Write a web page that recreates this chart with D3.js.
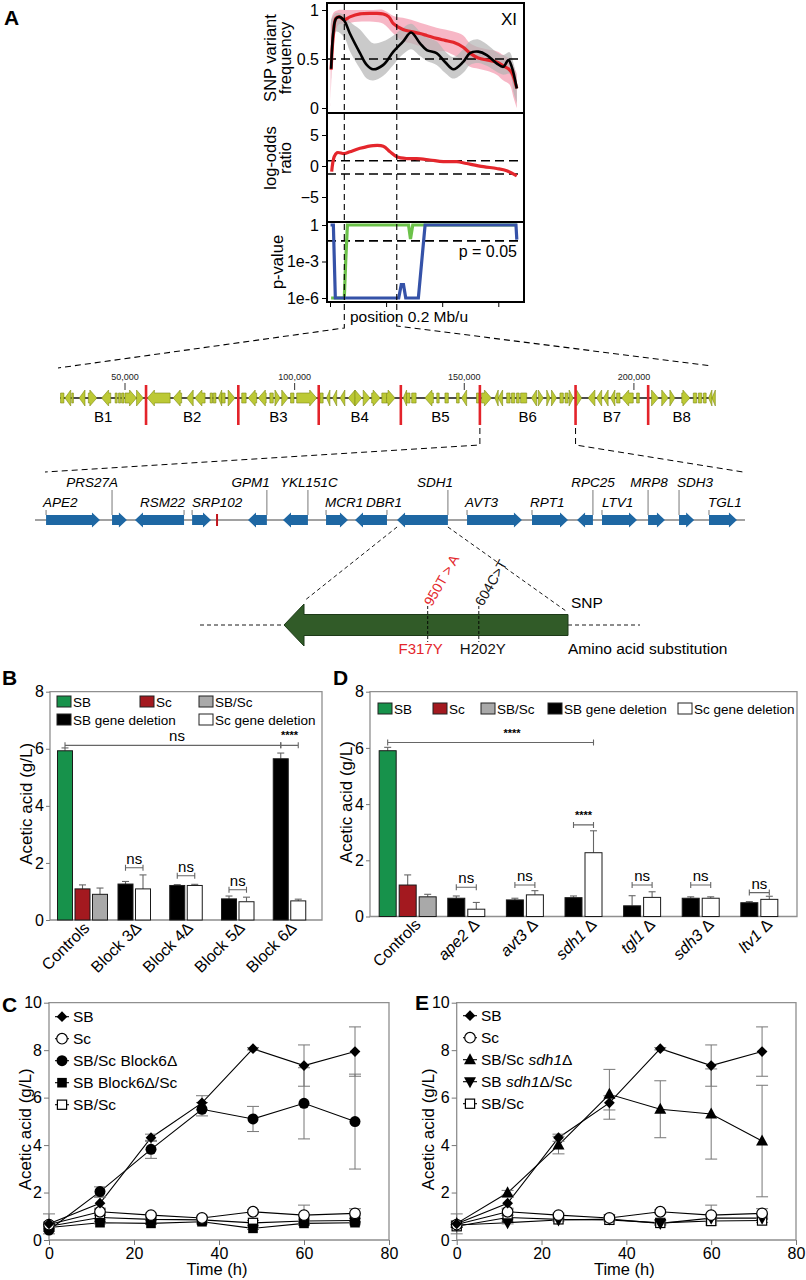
<!DOCTYPE html>
<html><head><meta charset="utf-8">
<script src="https://cdn.jsdelivr.net/npm/d3@7"></script>
<style>body{margin:0;background:#fff}svg{display:block}</style>
</head><body>
<svg id="c" width="806" height="1280"></svg>
<script>
// ================= DATA =================
// Panel A (chromosome XI, position in Mb)
const freqRed=[[0.004,0.39],[0.012,0.75],[0.021,0.915],[0.033,0.93],[0.051,0.9],[0.071,0.93],[0.107,0.96],[0.154,0.965],[0.19,0.96],[0.21,0.93],[0.226,0.86],[0.26,0.8],[0.289,0.78],[0.321,0.76],[0.345,0.74],[0.38,0.71],[0.41,0.69],[0.44,0.67],[0.475,0.62],[0.499,0.56],[0.529,0.51],[0.559,0.49],[0.594,0.47],[0.618,0.43],[0.636,0.4],[0.648,0.36],[0.666,0.2]];
const freqBlack=[[0.004,0.4],[0.012,0.78],[0.021,0.91],[0.033,0.93],[0.051,0.89],[0.071,0.76],[0.107,0.56],[0.131,0.44],[0.154,0.395],[0.19,0.44],[0.226,0.575],[0.261,0.68],[0.289,0.77],[0.321,0.66],[0.345,0.59],[0.38,0.56],[0.41,0.47],[0.44,0.395],[0.475,0.47],[0.499,0.56],[0.529,0.575],[0.559,0.54],[0.594,0.456],[0.618,0.42],[0.636,0.49],[0.648,0.42],[0.666,0.2]];
const pinkCloud=[[0.002,0.02,0.85],[0.012,0.6,0.97],[0.03,0.85,1.0],[0.051,0.86,1.0],[0.1,0.88,1.0],[0.154,0.88,1.0],[0.19,0.86,1.0],[0.226,0.76,0.94],[0.26,0.68,0.92],[0.289,0.66,0.9],[0.321,0.63,0.87],[0.345,0.6,0.85],[0.38,0.58,0.82],[0.41,0.58,0.8],[0.44,0.54,0.78],[0.475,0.48,0.74],[0.499,0.42,0.66],[0.529,0.4,0.62],[0.559,0.38,0.6],[0.594,0.34,0.58],[0.618,0.28,0.54],[0.64,0.24,0.5],[0.655,0.1,0.42],[0.666,0.0,0.35]];
const grayCloud=[[0.004,0.3,0.9],[0.021,0.78,0.97],[0.051,0.72,0.95],[0.071,0.58,0.88],[0.107,0.4,0.8],[0.131,0.3,0.72],[0.154,0.28,0.66],[0.19,0.33,0.68],[0.226,0.44,0.74],[0.261,0.55,0.82],[0.289,0.6,0.86],[0.321,0.53,0.78],[0.345,0.48,0.72],[0.38,0.44,0.68],[0.41,0.36,0.58],[0.44,0.3,0.52],[0.475,0.36,0.6],[0.499,0.44,0.68],[0.529,0.46,0.7],[0.559,0.43,0.65],[0.594,0.37,0.57],[0.618,0.34,0.54],[0.64,0.35,0.57],[0.655,0.15,0.45],[0.666,0.05,0.3]];
const logOdds=[[0.006,-0.9],[0.015,1.5],[0.025,2.15],[0.051,2.0],[0.071,2.3],[0.107,2.85],[0.154,3.3],[0.19,3.2],[0.214,2.3],[0.238,1.5],[0.273,1.2],[0.309,1.2],[0.356,0.97],[0.404,0.7],[0.452,0.7],[0.487,0.4],[0.547,-0.1],[0.594,-0.4],[0.63,-0.75],[0.666,-1.6]];
const pGreen=[[0.004,-6],[0.051,-6],[0.056,-3],[0.062,0],[0.28,0],[0.287,-1.15],[0.295,0],[0.666,0]];
const pBlue=[[0.002,0],[0.012,0],[0.019,-6],[0.245,-6],[0.254,-4.9],[0.262,-4.9],[0.27,-6],[0.315,-6],[0.339,0],[0.663,0],[0.666,-1.2]];
const freqTicks=[0,0.5,1], lodTicks=[-5,0,5], pTicks=[0,-3,-6], pTickLabels=["1","1e-3","1e-6"];
const posTicks=[0,0.2,0.4,0.6];
const lodThresholds=[0.85,-1.3];
const pThreshold=Math.log10(0.05);
const qtlMarks=[0.051,0.238];

// Gene track (kb)
const blockBounds=[56.2,83.4,107.1,131.3,154.6,182.8,204.2];
const blockNames=["B1","B2","B3","B4","B5","B6","B7","B8"];
const trackTicks=[50000,100000,150000,200000];
const trackGenes=[[31.0,32.0,0],[32.3,34.0,-1],[34.3,34.8,0],[36.5,38.2,-1],[39.2,41.7,1],[43.1,45.8,-1],[47.1,47.7,0],[48.1,48.7,0],[49.0,49.7,0],[50.0,53.4,1],[53.4,55.4,1],
[56.6,63.3,-1],[64.2,66.7,-1],[68.2,70.1,-1],[70.6,73.6,-1],[75.1,75.8,0],[76.0,76.8,0],[77.5,78.5,-1],[78.5,79.5,0],[80.4,82.4,1],
[84.4,85.7,0],[86.3,88.8,-1],[89.3,91.6,-1],[92.7,93.7,0],[94.2,95.7,1],[96.2,98.1,1],[98.8,99.8,0],[100.6,106.5,1],
[107.5,108.4,0],[109.4,110.4,-1],[111.2,112.4,-1],[113.4,114.8,-1],[115.8,117.8,-1],[117.8,119.8,1],[120.2,122.2,1],[122.7,125.2,1],[125.7,127.1,0],[127.1,129.6,1],
[132.0,133.0,-1],[133.0,134.0,0],[134.5,135.8,0],[138.4,140.9,-1],[141.9,142.6,0],[144.3,145.3,0],[147.7,148.5,0],[149.2,150.7,-1],[153.6,154.4,0],
[155.1,158.0,1],[159.0,160.0,-1],[160.0,161.3,-1],[162.5,163.5,0],[163.9,164.9,0],[165.4,166.2,0],[166.6,168.4,0],[169.8,171.3,-1],[171.8,173.3,1],[174.3,175.3,1],[175.7,177.2,1],[178.2,179.2,0],[179.7,180.6,0],[180.9,182.1,1],
[183.1,184.6,1],[186.5,188.5,-1],[189.0,190.5,-1],[191.0,192.4,-1],[193.1,194.4,-1],[194.9,195.9,0],[196.4,199.8,-1],[200.8,201.6,0],
[205.2,207.2,1],[208.2,210.1,1],[210.6,212.1,1],[214.1,216.5,1],[217.5,218.5,0],[219.0,220.0,0],[220.5,221.3,0],[222.0,223.0,-1],[223.0,224.0,-1]];
// Block 6 genes (kb)
const regionGenes=[
{name:"APE2",s:155.04,e:157.18,str:1,row:1},{name:"PRS27A",s:157.66,e:158.25,str:1,row:0},
{name:"RSM22",s:158.57,e:160.52,str:-1,row:1},{name:"SRP102",s:160.84,e:161.59,str:1,row:1},
{name:"GPM1",s:163.06,e:163.81,str:-1,row:0},{name:"YKL151C",s:164.45,e:165.44,str:-1,row:0},
{name:"MCR1",s:166.16,e:167.03,str:1,row:1},{name:"DBR1",s:167.31,e:168.58,str:-1,row:1},
{name:"SDH1",s:168.98,e:171.0,str:-1,row:0},{name:"AVT3",s:171.76,e:173.94,str:1,row:1},
{name:"RPT1",s:174.34,e:175.77,str:1,row:1},{name:"RPC25",s:176.13,e:176.76,str:-1,row:0},
{name:"LTV1",s:177.12,e:178.51,str:1,row:1},{name:"MRP8",s:178.95,e:179.62,str:1,row:0},
{name:"SDH3",s:180.18,e:180.78,str:1,row:0},{name:"TGL1",s:181.37,e:182.48,str:1,row:1}];
const regionMark=161.83;
// SDH1 detail
const sdh1Length=1923;
const snps=[{nt:950,snp:"950T > A",aa:"F317Y",color:"#e3262b"},{nt:604,snp:"604C>T",aa:"H202Y",color:"#111"}];

// Panel B
const bCategories=["Controls","Block 3Δ","Block 4Δ","Block 5Δ","Block 6Δ"];
const bControlVals=[5.93,1.09,0.90], bControlErr=[0.10,0.14,0.22];
const bSBdel=[1.26,1.21,0.74,5.65], bSBdelErr=[0.09,0.03,0.10,0.20];
const bScdel=[1.09,1.21,0.64,0.67], bScdelErr=[0.49,0.04,0.16,0.06];
// Panel D
const dCategories=["Controls","ape2","avt3","sdh1","tgl1","sdh3","ltv1"];
const dControlVals=[5.90,1.12,0.70], dControlErr=[0.12,0.36,0.09];
const dSBdel=[0.65,0.59,0.67,0.38,0.65,0.49], dSBdelErr=[0.08,0.06,0.06,0.36,0.05,0.04];
const dScdel=[0.26,0.77,2.27,0.68,0.65,0.61], dScdelErr=[0.24,0.15,0.78,0.20,0.05,0.11];
const barTicks=[0,2,4,6,8];
const legendKeys=["SB","Sc","SB/Sc","SB gene deletion","Sc gene deletion"];
const legendColors=["#17924b","#a3191f","#a9a9a9","#000000","#ffffff"];

// Panels C and E
const times=[0,12,24,36,48,60,72];
const sbVals=[0.68,1.55,4.31,5.78,8.06,7.35,7.94], sbErr=[0.42,0.25,0.15,0.3,0.05,0.87,1.04];
const scVals=[0.65,1.19,1.05,0.93,1.19,1.05,1.12], scErr=[0.1,0.15,0.08,0.05,0.08,0.42,0.2];
const sbscVals=[0.58,0.95,0.87,0.85,0.72,0.8,0.82], sbscErr=[0.05,0.1,0.05,0.05,0.1,0.08,0.08];
const blk6SbScVals=[0.42,2.04,3.82,5.51,5.10,5.76,4.99], blk6SbScErr=[0.05,0.2,0.38,0.28,0.53,1.5,2.0];
const blk6SbScDelVals=[0.53,0.73,0.70,0.77,0.49,0.70,0.73], blk6SbScDelErr=[0.05,0.05,0.05,0.05,0.05,0.05,0.05];
const sdh1SbScVals=[0.70,1.99,4.00,6.14,5.51,5.31,4.17], sdh1SbScErr=[0.05,0.1,0.37,1.05,1.2,1.9,2.35];
const sdh1SbDelScVals=[0.63,0.73,0.84,0.88,0.70,0.92,0.92], sdh1SbDelScErr=[0.05,0.05,0.05,0.05,0.05,0.05,0.05];
const timeTicks=[0,20,40,60,80], acidTicks=[0,2,4,6,8,10];

// ================= DRAWING =================
const F='"Liberation Sans", Arial, Helvetica, sans-serif';
const svg=d3.select('#c').attr('font-family',F);
const defs=svg.append('defs');
function txt(g,x,y,s,fs,o={}){const t=g.append('text').attr('x',x).attr('y',y).attr('font-size',fs).text(s);
  if(o.anchor)t.attr('text-anchor',o.anchor); if(o.weight)t.attr('font-weight',o.weight); if(o.fill)t.attr('fill',o.fill);
  if(o.style)t.attr('font-style',o.style); if(o.tr)t.attr('transform',o.tr); return t;}
function styleAxis(s,fs,col){s.selectAll('text').attr('font-size',fs).attr('font-family',F).attr('fill','#000');
  s.selectAll('line').attr('stroke',col||'#000'); s.select('.domain').remove();}

// ---------- Panel A ----------
txt(svg,4,25,"A",21,{weight:'bold'});
const AL=327,AR=524;
const xA=d3.scaleLinear().domain([0,0.6]).range([330,498.3]);
const yF=d3.scaleLinear().domain([0,1]).range([108,10]);
const yL=d3.scaleLinear().domain([-5,5]).range([197,135]);
const yP=d3.scaleLinear().domain([-6,0]).range([298,225]);
const panels=[[3,113],[113,222],[222,302]];
panels.forEach((p,i)=>defs.append('clipPath').attr('id','ca'+i).append('rect').attr('x',AL).attr('y',p[0]).attr('width',AR-AL).attr('height',p[1]-p[0]));
const gA=svg.append('g');
const g0=gA.append('g').attr('clip-path','url(#ca0)');
const band=d3.area().x(d=>xA(d[0])).y0(d=>yF(d[1])).y1(d=>yF(d[2])).curve(d3.curveCatmullRom);
g0.append('path').datum(pinkCloud).attr('d',band).attr('fill','#f6afc0').attr('opacity',0.9);
g0.append('path').datum(grayCloud).attr('d',band).attr('fill','#b4b4b4').attr('opacity',0.7);
g0.append('line').attr('x1',AL).attr('x2',AR).attr('y1',yF(0.5)).attr('y2',yF(0.5)).attr('stroke','#000').attr('stroke-width',1.6).attr('stroke-dasharray','9,5');
const lineF=d3.line().x(d=>xA(d[0])).y(d=>yF(d[1])).curve(d3.curveCatmullRom.alpha(0.5));
g0.append('path').datum(freqRed).attr('d',lineF).attr('fill','none').attr('stroke','#e4262c').attr('stroke-width',3.2);
g0.append('path').datum(freqBlack).attr('d',lineF).attr('fill','none').attr('stroke','#000').attr('stroke-width',2.6);
const g1=gA.append('g').attr('clip-path','url(#ca1)');
lodThresholds.forEach(v=>g1.append('line').attr('x1',AL).attr('x2',AR).attr('y1',yL(v)).attr('y2',yL(v)).attr('stroke','#000').attr('stroke-width',1.6).attr('stroke-dasharray','9,5'));
g1.append('path').datum(logOdds).attr('d',d3.line().x(d=>xA(d[0])).y(d=>yL(d[1])).curve(d3.curveCatmullRom.alpha(0.5))).attr('fill','none').attr('stroke','#e4262c').attr('stroke-width',3.2);
const g2=gA.append('g').attr('clip-path','url(#ca2)');
g2.append('line').attr('x1',AL).attr('x2',AR).attr('y1',yP(pThreshold)).attr('y2',yP(pThreshold)).attr('stroke','#000').attr('stroke-width',1.6).attr('stroke-dasharray','9,5');
const lineP=d3.line().x(d=>xA(d[0])).y(d=>yP(d[1]));
g2.append('path').datum(pGreen).attr('d',lineP).attr('fill','none').attr('stroke','#6cc24a').attr('stroke-width',3.2);
g2.append('path').datum(pBlue).attr('d',lineP).attr('fill','none').attr('stroke','#3552a8').attr('stroke-width',3.2);
panels.forEach(p=>gA.append('rect').attr('x',AL).attr('y',p[0]).attr('width',AR-AL).attr('height',p[1]-p[0]).attr('fill','none').attr('stroke','#000').attr('stroke-width',2));
gA.append('g').attr('transform',`translate(${AL},0)`).call(d3.axisLeft(yF).tickValues(freqTicks).tickSize(5).tickPadding(3).tickFormat(d=>d===0.5?'0.5':String(d))).call(s=>styleAxis(s,16));
gA.append('g').attr('transform',`translate(${AL},0)`).call(d3.axisLeft(yL).tickValues(lodTicks).tickSize(5).tickPadding(3)).call(s=>styleAxis(s,16));
gA.append('g').attr('transform',`translate(${AL},0)`).call(d3.axisLeft(yP).tickValues(pTicks).tickSize(5).tickPadding(3).tickFormat((d,i)=>pTickLabels[i])).call(s=>styleAxis(s,16));
gA.append('g').attr('transform',`translate(0,302)`).call(d3.axisBottom(xA).tickValues(posTicks).tickSize(5).tickFormat('')).call(s=>styleAxis(s,16));
txt(gA,517,25,"XI",17,{anchor:'end'});
txt(gA,517,257,"p = 0.05",16,{anchor:'end'});
txt(gA,0,0,"SNP variant",16.5,{anchor:'middle',tr:'translate(276,58) rotate(-90)'});
txt(gA,0,0,"frequency",16.5,{anchor:'middle',tr:'translate(291,58) rotate(-90)'});
txt(gA,0,0,"log-odds",16.5,{anchor:'middle',tr:'translate(276,158) rotate(-90)'});
txt(gA,0,0,"ratio",16.5,{anchor:'middle',tr:'translate(291,158) rotate(-90)'});
txt(gA,0,0,"p-value",16.5,{anchor:'middle',tr:'translate(283,262) rotate(-90)'});
txt(gA,409,322,"position 0.2 Mb/u",15.5,{anchor:'middle'});

// ---------- Gene track ----------
const gT=svg.append('g');
const xT=d3.scaleLinear().domain([30.84,223.9]).range([60,715]);
const trackY=398;
const m0=xA(qtlMarks[0]), m1=xA(qtlMarks[1]);
const dashed=(g,d,w)=>g.append('path').attr('d',d).attr('fill','none').attr('stroke','#000').attr('stroke-width',w||1.1).attr('stroke-dasharray','6,4');
dashed(gT,`M${m0},4V328L${xT(30.84)-2},368`);
dashed(gT,`M${m1},4V326L${xT(223.9)-3},366`);
gT.append('line').attr('x1',xT(30.84)).attr('x2',xT(223.9)).attr('y1',trackY).attr('y2',trackY).attr('stroke','#111').attr('stroke-width',1.6);
function glyph(x0,x1,y,str,hb,hh,hlen){
  if(str===0) return `M${x0},${y-hb}H${x1}V${y+hb}H${x0}Z`;
  const hl=Math.min(hlen,x1-x0);
  if(str===1){const xb=x1-hl;return `M${x0},${y-hb}H${xb}V${y-hh}L${x1},${y}L${xb},${y+hh}V${y+hb}H${x0}Z`;}
  const xb=x0+hl;return `M${x1},${y-hb}H${xb}V${y-hh}L${x0},${y}L${xb},${y+hh}V${y+hb}H${x1}Z`;
}
trackGenes.forEach(d=>gT.append('path').attr('d',glyph(xT(d[0]),xT(d[1]),trackY,d[2],5,8,7)).attr('fill','#bcc935').attr('stroke','#7f8c14').attr('stroke-width',0.6));
trackTicks.forEach(t=>{const x=xT(t/1000);gT.append('line').attr('x1',x).attr('x2',x).attr('y1',383).attr('y2',390).attr('stroke','#333');
  txt(gT,x,380,d3.format(',')(t),9,{anchor:'middle',fill:'#222'});});
blockBounds.forEach(b=>gT.append('line').attr('x1',xT(b)).attr('x2',xT(b)).attr('y1',385).attr('y2',425).attr('stroke','#e3232a').attr('stroke-width',2.6));
const bStarts=[31].concat(blockBounds), bEnds=blockBounds.concat([224]);
blockNames.forEach((n,i)=>txt(gT,xT((bStarts[i]+bEnds[i])/2),422,n,15,{anchor:'middle'}));

// ---------- Block 6 region ----------
const xR=d3.scaleLinear().domain([154.6,182.8]).range([35,745]);
const rY=520;
dashed(gT,`M${xT(blockBounds[4])},428V445L45,472`,1);
dashed(gT,`M${xT(blockBounds[5])},428V445L743,472`,1);
gT.append('line').attr('x1',35).attr('x2',745).attr('y1',rY).attr('y2',rY).attr('stroke','#444').attr('stroke-width',1);
const labelAnchor={APE2:['start',-3],PRS27A:['end',6],RSM22:['end',1],SRP102:['start',0],GPM1:['end',3],YKL151C:['middle',1],MCR1:['start',-1],DBR1:['middle',-3],SDH1:['end',5],AVT3:['start',-2],RPT1:['start',-2],RPC25:['middle',0],LTV1:['start',0],MRP8:['middle',1],SDH3:['start',-2],TGL1:['start',-1]};
regionGenes.forEach(d=>{
  gT.append('path').attr('d',glyph(xR(d.s),xR(d.e),rY,d.str,5,7.5,8)).attr('fill','#1e67a3');
  const lx=d.str===1?xR(d.s):xR(d.e); const ly=d.row===0?487:507;
  gT.append('line').attr('x1',lx).attr('x2',lx).attr('y1',ly+3).attr('y2',rY-5).attr('stroke','#555').attr('stroke-width',0.8);
  const a=labelAnchor[d.name];
  txt(gT,lx+a[1],ly,d.name,13.5,{anchor:a[0],style:'italic'});
});
gT.append('line').attr('x1',xR(regionMark)).attr('x2',xR(regionMark)).attr('y1',514).attr('y2',526).attr('stroke','#c0141b').attr('stroke-width',2);

// ---------- SDH1 detail ----------
const sdh1=regionGenes.find(d=>d.name==="SDH1");
const xS=d3.scaleLinear().domain([0,sdh1Length]).range([568,284]);
const aY=625;
gT.append('path').attr('d',`M200,${aY}H${xS(sdh1Length)}M${xS(0)},${aY}H640`).attr('stroke','#000').attr('stroke-width',0.9).attr('stroke-dasharray','4,3');
gT.append('path').attr('d',`M${xR(sdh1.s)},527L${xS(sdh1Length)+20},601M${xR(sdh1.e)},527L${xS(0)-2},611`).attr('fill','none').attr('stroke','#000').attr('stroke-width',0.9).attr('stroke-dasharray','4,3');
gT.append('path').attr('d',glyph(xS(sdh1Length),xS(0),aY,-1,10.5,21,20)).attr('fill','#315b28').attr('stroke','#1d3a18').attr('stroke-width',1);
const snpDx=[-7,4];
snps.forEach((s,i)=>{const x=xS(s.nt);
  gT.append('line').attr('x1',x).attr('x2',x).attr('y1',606).attr('y2',642).attr('stroke','#000').attr('stroke-width',0.9).attr('stroke-dasharray','3,2');
  txt(gT,0,0,s.snp,14,{fill:s.color,tr:`translate(${x+4},607) rotate(-60)`});
  txt(gT,x+snpDx[i],654,s.aa,15,{anchor:'middle',fill:s.color});
});
txt(gT,571,608,"SNP",15.5);
txt(gT,568,654,"Amino acid substitution",15.5);

// ---------- Bar panels ----------
const colorOf=k=>legendColors[legendKeys.indexOf(k)];
function barPanel(o){
  const g=svg.append('g');
  const y=d3.scaleLinear().domain([0,8]).range([o.yb,o.yt]);
  const x=d3.scalePoint().domain(o.cats).range([o.xl,o.xr]).padding(o.pad);
  g.append('path').attr('d',`M${o.xl},${o.yt}H${o.xr}V${o.yb}H${o.xl}Z`).attr('fill','none').attr('stroke','#8f8f8f').attr('stroke-width',1.3);
  g.append('g').attr('transform',`translate(${o.xl},0)`).call(d3.axisLeft(y).tickValues(barTicks).tickSize(4).tickPadding(2)).call(s=>styleAxis(s,16,'#777'));
  const barX={};
  o.groups.forEach((grp,i)=>{const cx=x(o.cats[i]);const n=grp.length;
    grp.forEach((b,j)=>{const bc=cx+(j-(n-1)/2)*o.step; barX[i+'_'+j]=bc;
      g.append('line').attr('x1',bc).attr('x2',bc).attr('y1',y(b.v)).attr('y2',y(b.v+b.e)).attr('stroke','#666').attr('stroke-width',1.1);
      g.append('line').attr('x1',bc-3.5).attr('x2',bc+3.5).attr('y1',y(b.v+b.e)).attr('y2',y(b.v+b.e)).attr('stroke','#666').attr('stroke-width',1.1);
      g.append('rect').attr('x',bc-o.bw/2).attr('y',y(b.v)).attr('width',o.bw).attr('height',y(0)-y(b.v)).attr('fill',colorOf(b.k)).attr('stroke','#1a1a1a').attr('stroke-width',1);
    });
    const lab=g.append('text').attr('font-size',16).attr('text-anchor','end').attr('transform',`translate(${cx+o.labDx},${o.yb+9}) rotate(-45)`);
    if(i===0||!o.italic) lab.text(o.cats[i]); else {lab.append('tspan').attr('font-style','italic').text(o.cats[i]);lab.append('tspan').text(' Δ');}
  });
  o.sig.forEach(s=>{const x1=barX[s[0]],x2=barX[s[1]],yy=y(s[2]);
    g.append('path').attr('d',`M${x1},${yy}H${x2}M${x1},${yy-3}V${yy+3}M${x2},${yy-3}V${yy+3}`).attr('stroke','#666').attr('stroke-width',1.1);
    const cx=s[4]!=null?s[4]:(x1+x2)/2;
    if(s[3]==='ns') txt(g,cx,yy-4,'ns',15,{anchor:'middle'}); else txt(g,cx,yy-6,s[3],11,{anchor:'middle',weight:'bold'});
  });
  o.legend.forEach(l=>{g.append('rect').attr('x',l[1]).attr('y',l[2]).attr('width',14).attr('height',11).attr('fill',colorOf(l[0])).attr('stroke','#222').attr('stroke-width',1);
    txt(g,l[1]+16,l[2]+10.5,l[0],13.5);});
  txt(g,0,0,"Acetic acid (g/L)",17,{anchor:'middle',tr:`translate(${o.titleX},${(o.yt+o.yb)/2-2}) rotate(-90)`});
  txt(g,o.labX,685,o.label,21,{weight:'bold'});
}
const bGroups=[bControlVals.map((v,j)=>({v,e:bControlErr[j],k:legendKeys[j]}))].concat(bSBdel.map((v,i)=>[{v,e:bSBdelErr[i],k:"SB gene deletion"},{v:bScdel[i],e:bScdelErr[i],k:"Sc gene deletion"}]));
barPanel({cats:bCategories,groups:bGroups,xl:50,xr:322,yb:920,yt:691.7,pad:0.628,step:17.5,bw:15,labDx:8,italic:false,
  sig:[['0_0','4_0',6.12,'ns',177],['4_0','4_1',6.12,'****'],['1_0','1_1',1.83,'ns'],['2_0','2_1',1.55,'ns'],['3_0','3_1',1.06,'ns']],
  legend:[["SB",57,696],["Sc",140,696],["SB/Sc",199,696],["SB gene deletion",57,714],["Sc gene deletion",199,714]],
  titleX:32,labX:2,label:"B"});
const dGroups=[dControlVals.map((v,j)=>({v,e:dControlErr[j],k:legendKeys[j]}))].concat(dSBdel.map((v,i)=>[{v,e:dSBdelErr[i],k:"SB gene deletion"},{v:dScdel[i],e:dScdelErr[i],k:"Sc gene deletion"}]));
barPanel({cats:dCategories,groups:dGroups,xl:370,xr:797,yb:916.5,yt:691.7,pad:0.643,step:20,bw:17,labDx:14,italic:true,
  sig:[['0_0','3_1',6.19,'****',512],['3_0','3_1',3.26,'****'],['1_0','1_1',1.04,'ns'],['2_0','2_1',1.12,'ns'],['4_0','4_1',1.12,'ns'],['5_0','5_1',1.12,'ns'],['6_0','6_1',0.85,'ns']],
  legend:[["SB",378,703],["Sc",433,703],["SB/Sc",481,703],["SB gene deletion",548,703],["Sc gene deletion",678,703]],
  titleX:352,labX:333,label:"D"});

// ---------- Line panels ----------
const sym={
  diamond:(g,x,y)=>g.append('rect').attr('x',-3.8).attr('y',-3.8).attr('width',7.6).attr('height',7.6).attr('transform',`translate(${x},${y}) rotate(45)`).attr('fill','#000'),
  circleOpen:(g,x,y)=>g.append('circle').attr('cx',x).attr('cy',y).attr('r',5.3).attr('fill','#fff').attr('stroke','#000').attr('stroke-width',1.2),
  circle:(g,x,y)=>g.append('circle').attr('cx',x).attr('cy',y).attr('r',5.5).attr('fill','#000'),
  square:(g,x,y)=>g.append('rect').attr('x',x-4.8).attr('y',y-4.8).attr('width',9.6).attr('height',9.6).attr('fill','#000'),
  squareOpen:(g,x,y)=>g.append('rect').attr('x',x-4.6).attr('y',y-4.6).attr('width',9.2).attr('height',9.2).attr('fill','#fff').attr('stroke','#000').attr('stroke-width',1.2),
  triUp:(g,x,y)=>g.append('path').attr('d',`M${x},${y-6.5}L${x+6},${y+4.5}L${x-6},${y+4.5}Z`).attr('fill','#000'),
  triDown:(g,x,y)=>g.append('path').attr('d',`M${x},${y+6.5}L${x+6},${y-4.5}L${x-6},${y-4.5}Z`).attr('fill','#000')
};
function linePanel(o){
  const g=svg.append('g');
  const y=d3.scaleLinear().domain([0,10]).range([o.yb,o.yt]);
  const x=d3.scaleLinear().domain([0,80]).range([o.xl,o.xr]);
  g.append('path').attr('d',`M${o.xl},${o.yt}H${o.xr}V${o.yb}H${o.xl}Z`).attr('fill','none').attr('stroke','#8f8f8f').attr('stroke-width',1.3);
  g.append('g').attr('transform',`translate(${o.xl},0)`).call(d3.axisLeft(y).tickValues(acidTicks).tickSize(5).tickPadding(2)).call(s=>styleAxis(s,16,'#777'));
  g.append('g').attr('transform',`translate(0,${o.yb})`).call(d3.axisBottom(x).tickValues(timeTicks).tickSize(5).tickPadding(3)).call(s=>styleAxis(s,16,'#777'));
  const ln=d3.line().x((d,i)=>x(times[i])).y(d=>y(d));
  o.series.forEach(s=>g.append('path').datum(s.v).attr('d',ln).attr('fill','none').attr('stroke','#000').attr('stroke-width',1.1));
  o.series.forEach(s=>s.v.forEach((v,i)=>{const xx=x(times[i]),y1=y(v+s.e[i]),y2=y(v-s.e[i]);
    g.append('path').attr('d',`M${xx},${y1}V${y2}M${xx-6},${y1}H${xx+6}M${xx-6},${y2}H${xx+6}`).attr('stroke','#777').attr('stroke-width',1);}));
  o.series.slice().reverse().forEach(s=>s.v.forEach((v,i)=>sym[s.m](g,x(times[i]),y(v))));
  o.series.forEach((s,i)=>{const ly=o.legY+i*22;
    g.append('line').attr('x1',o.legX-7).attr('x2',o.legX+7).attr('y1',ly).attr('y2',ly).attr('stroke','#000').attr('stroke-width',1.1);
    sym[s.m](g,o.legX,ly);
    const t=g.append('text').attr('x',o.legX+11).attr('y',ly+5.5).attr('font-size',15.5);
    s.name.forEach(p=>t.append('tspan').attr('font-style',p[1]?'italic':'normal').text(p[0]));
  });
  txt(g,0,0,"Acetic acid (g/L)",17,{anchor:'middle',tr:`translate(${o.titleX},${(o.yt+o.yb)/2+8}) rotate(-90)`});
  txt(g,(o.xl+o.xr)/2-2,1275,"Time (h)",16.5,{anchor:'middle'});
  txt(g,o.labX,o.labY,o.label,21,{weight:'bold'});
}
linePanel({xl:49,xr:389,yb:1240,yt:1002.7,legX:62,legY:1016.7,titleX:31,labX:2,labY:1012,label:"C",
  series:[{name:[["SB"]],v:sbVals,e:sbErr,m:'diamond'},{name:[["Sc"]],v:scVals,e:scErr,m:'circleOpen'},
    {name:[["SB/Sc Block6Δ"]],v:blk6SbScVals,e:blk6SbScErr,m:'circle'},{name:[["SB Block6Δ/Sc"]],v:blk6SbScDelVals,e:blk6SbScDelErr,m:'square'},
    {name:[["SB/Sc"]],v:sbscVals,e:sbscErr,m:'squareOpen'}]});
linePanel({xl:456.7,xr:796,yb:1240,yt:1002.7,legX:470,legY:1015.7,titleX:434,labX:415,labY:1010,label:"E",
  series:[{name:[["SB"]],v:sbVals,e:sbErr,m:'diamond'},{name:[["Sc"]],v:scVals,e:scErr,m:'circleOpen'},
    {name:[["SB/Sc "],["sdh1",1],["Δ"]],v:sdh1SbScVals,e:sdh1SbScErr,m:'triUp'},{name:[["SB "],["sdh1",1],["Δ/Sc"]],v:sdh1SbDelScVals,e:sdh1SbDelScErr,m:'triDown'},
    {name:[["SB/Sc"]],v:sbscVals,e:sbscErr,m:'squareOpen'}]});
</script></body></html>
